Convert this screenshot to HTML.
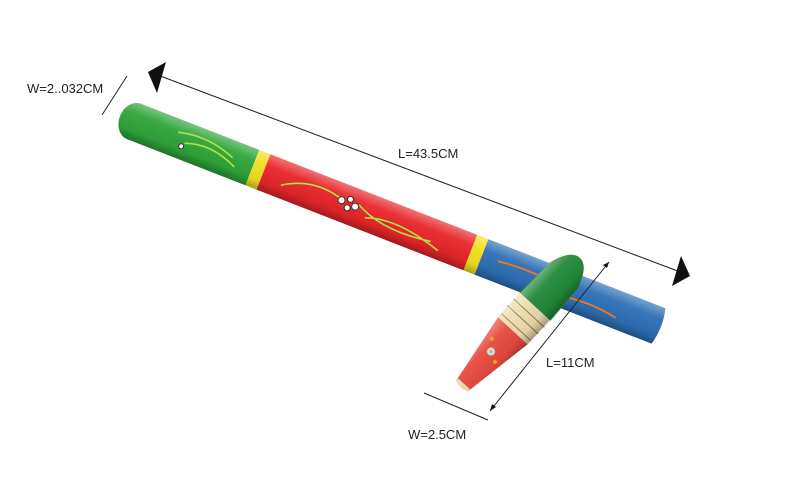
<!DOCTYPE html>
<html><head><meta charset="utf-8"><style>
html,body{margin:0;padding:0;background:#fff}
svg{display:block}
text{font-family:"Liberation Sans",sans-serif;font-size:13px;fill:#222}
</style></head><body>
<svg width="800" height="499" viewBox="0 0 800 499" xmlns="http://www.w3.org/2000/svg">
<defs>
<linearGradient id="sh" x1="0" y1="0" x2="0" y2="1">
<stop offset="0" stop-color="#fff" stop-opacity="0.35"/>
<stop offset="0.3" stop-color="#fff" stop-opacity="0.05"/>
<stop offset="0.75" stop-color="#000" stop-opacity="0.05"/>
<stop offset="1" stop-color="#000" stop-opacity="0.3"/>
</linearGradient>
</defs>
<!-- rod -->
<g transform="translate(120,116) rotate(21.3)">
<path d="M15,-19 H142 V19 H15 A15,19 0 0 1 15,-19Z" fill="#2ea53a"/>
<rect x="142" y="-19" width="12" height="38" fill="#f2e020"/>
<rect x="154" y="-19" width="222" height="38" fill="#e8262a"/>
<rect x="376" y="-19" width="12" height="38" fill="#f2e020"/>
<path d="M388,-19 H578 Q583,0 578,19 H388Z" fill="#2d6fb5"/>
<path d="M15,-19 H578 Q583,0 578,19 H15 A15,19 0 0 1 15,-19Z" fill="url(#sh)"/>
<g stroke="#b5e04a" stroke-width="1.6" fill="none">
<path d="M60,-6 Q90,-14 120,-2"/><path d="M70,2 Q95,-8 125,6"/>
<path d="M175,6 Q205,-14 240,-2"/><path d="M255,-4 Q285,12 335,4"/><path d="M265,6 Q295,-6 345,10"/>
</g>
<g stroke="#f07820" stroke-width="1.8" fill="none">
<path d="M405,-2 Q435,-6 465,-2"/><path d="M475,8 Q505,2 535,8"/>
</g>
<circle cx="237" cy="-2" r="3.5" fill="#fff" stroke="#333"/><circle cx="245" cy="-6" r="3" fill="#fff" stroke="#333"/>
<circle cx="245" cy="3" r="3" fill="#fff" stroke="#333"/><circle cx="252" cy="-1" r="3.5" fill="#fff" stroke="#333"/>
<circle cx="68" cy="6" r="2.5" fill="#fff" stroke="#333"/>
</g>
<!-- top -->
<g transform="translate(462,386) rotate(-47.4)">
<path d="M0,-8 L75,-20 H105 L150,-19 Q174,-12 174,0 Q174,12 150,19 L105,20 H75 L0,8 Q-3,0 0,-8Z" fill="#e84a40"/>
<path d="M75,-20 H105 L108,-21 V21 L105,20 H75Z" fill="#ecdcb0"/>
<path d="M80,-20 V20 M90,-21 V21 M99,-21 V21" stroke="#9a7a40" stroke-width="1"/>
<path d="M108,-21 L150,-19 Q174,-12 174,0 Q174,12 150,19 L108,21Z" fill="#238a3a"/>
<path d="M0,-8 Q-3,0 0,8 L3,8 V-8Z" fill="#ecdcb0"/>
<path d="M0,-8 L75,-20 H105 L150,-19 Q174,-12 174,0 Q174,12 150,19 L105,20 H75 L0,8 Q-3,0 0,-8Z" fill="url(#sh)"/>
<circle cx="45" cy="-2" r="4" fill="#bfe4f2"/><circle cx="45" cy="-2" r="1.5" fill="#e8b020"/>
<circle cx="40" cy="8" r="2" fill="#f2a020"/><circle cx="55" cy="-10" r="2" fill="#f2a020"/>
</g>
<!-- dimension lines -->
<g stroke="#222" stroke-width="1" fill="#111">
<line x1="155" y1="74" x2="683" y2="273"/>
<polygon points="148,72 166,62 157,93" stroke="none"/>
<polygon points="690,276 672,286 681,256" stroke="none"/>
<line x1="102" y1="115" x2="127" y2="76"/>
<line x1="490" y1="411" x2="609" y2="262"/>
<polygon points="609,262 603,265 607,268" stroke="none"/>
<polygon points="490,411 492,404 496,407" stroke="none"/>
<line x1="424" y1="393" x2="488" y2="420"/>
</g>
<text x="27" y="93">W=2..032CM</text>
<text x="398" y="158">L=43.5CM</text>
<text x="546" y="367">L=11CM</text>
<text x="408" y="439">W=2.5CM</text>
</svg>
</body></html>
